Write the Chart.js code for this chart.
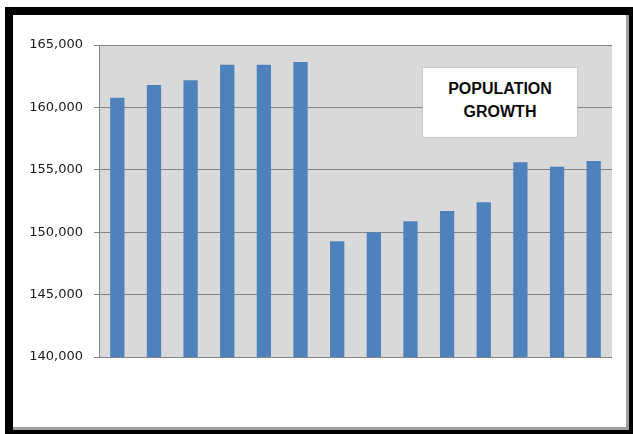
<!DOCTYPE html>
<html>
<head>
<meta charset="utf-8">
<script src="https://cdn.jsdelivr.net/npm/chart.js@4/dist/chart.umd.min.js"></script>
<style>
  html, body { margin:0; padding:0; background:#fff; width:633px; height:434px; overflow:hidden; }
  #frame { position:absolute; left:5px; top:7px; width:616px; height:415px;
           border-left:8px solid #000; border-top:8px solid #000;
           border-right:4px solid #000; border-bottom:4px solid #000;
           box-shadow: inset -3px -3px 0 #a0a0a0; background:#fff; }
  #wrap { position:absolute; left:0; top:0; width:633px; height:434px; }
  #titlebox { position:absolute; left:422px; top:67px; width:154px; height:69px;
              background:#fff; border:1px solid #c8c8c8;
              font-family:"Liberation Sans", Arial, sans-serif; font-weight:bold; font-size:16px;
              color:#0a0a0a; text-align:center; line-height:23px; box-sizing:content-box;
              display:flex; flex-direction:column; justify-content:center; padding-bottom:0; }
  #titlebox div { position:relative; top:-3px; }
</style>
</head>
<body>
<div id="frame"></div>
<div id="wrap"><canvas id="c" width="633" height="434"></canvas></div>
<div id="titlebox"><div>POPULATION</div><div>GROWTH</div></div>
<script>
const categories = ["1","2","3","4","5","6","7","8","9","10","11","12","13","14"];
const population = [160780, 161800, 162170, 163420, 163420, 163640, 149270, 149990, 150870, 151700, 152390, 155600, 155250, 155700];
const yTicks = [140000, 145000, 150000, 155000, 160000, 165000];

const plotBg = {
  id: 'plotBg',
  beforeDraw(chart) {
    const {ctx, chartArea:a} = chart;
    ctx.save();
    ctx.fillStyle = '#d9d9d9';
    ctx.fillRect(a.left, a.top, a.right - a.left, a.bottom - a.top);
    ctx.restore();
  }
};

new Chart(document.getElementById('c'), {
  type: 'bar',
  data: {
    labels: categories,
    datasets: [{
      data: population,
      backgroundColor: '#4f81bd',
      borderWidth: 0,
      categoryPercentage: 1,
      barPercentage: 0.39
    }]
  },
  options: {
    responsive: false,
    animation: false,
    devicePixelRatio: 1,
    layout: { padding: { left: 0, top: 45, right: 21, bottom: 77 } },
    plugins: { legend: { display: false }, tooltip: { enabled: false }, title: { display: false } },
    scales: {
      x: { display: false },
      y: {
        min: yTicks[0],
        max: yTicks[yTicks.length - 1],
        afterBuildTicks(scale) { scale.ticks = yTicks.map(v => ({ value: v })); },
        afterFit(scale) { scale.width = 99; },
        ticks: {
          padding: 11,
          color: '#1a1a1a',
          font: { family: 'DejaVu Sans', size: 13 },
          callback: v => v.toLocaleString('en-US')
        },
        grid: { color: '#858585', lineWidth: 1, tickLength: 5, tickColor: '#858585' },
        border: { color: '#858585', width: 1 }
      }
    }
  },
  plugins: [plotBg]
});
</script>
</body>
</html>
